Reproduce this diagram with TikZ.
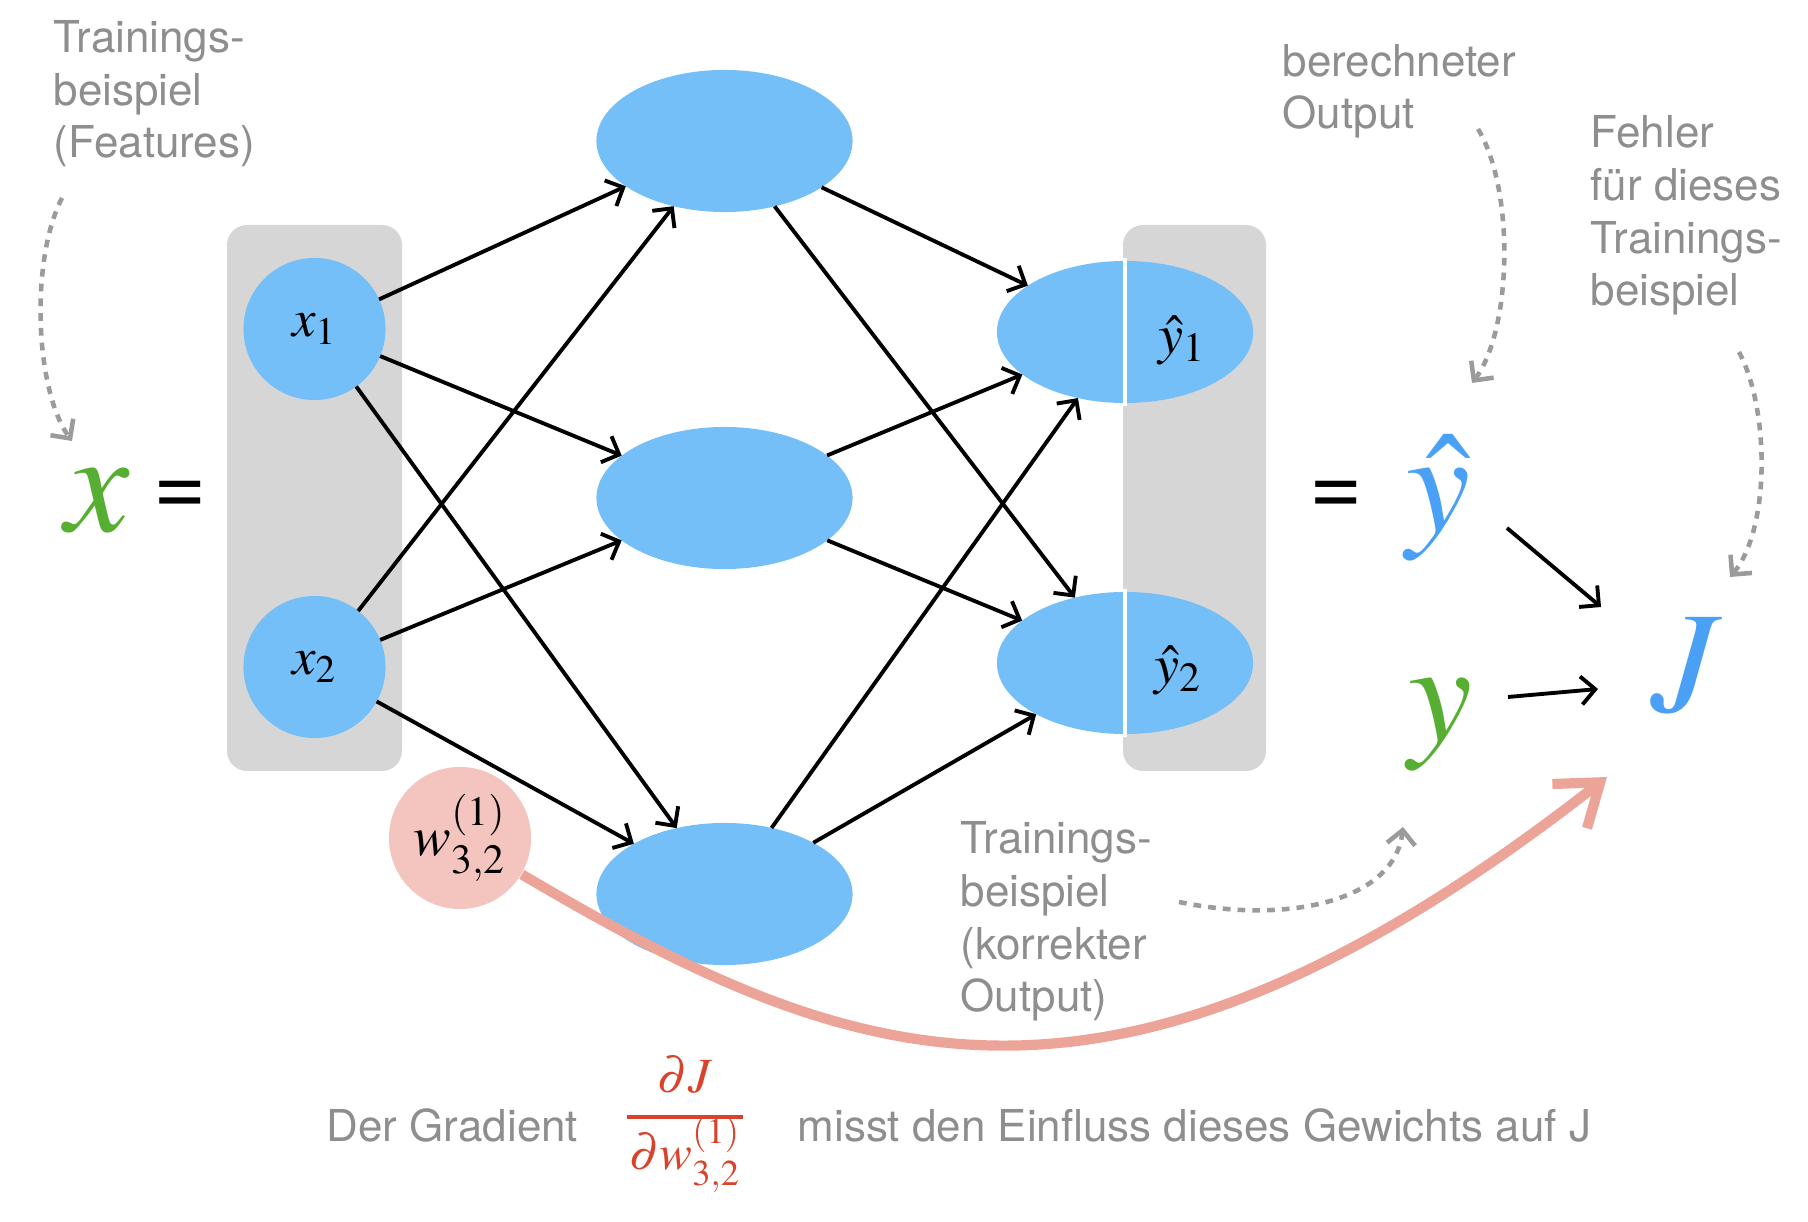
\documentclass[tikz,border=0pt]{standalone}
\usepackage{mathptmx}
\usepackage[no-math]{fontspec}
\setmainfont{TeX Gyre Heros}
\usetikzlibrary{arrows.meta,shapes.geometric}
\definecolor{nodeblue}{RGB}{116,191,248}
\definecolor{boxgray}{RGB}{214,214,214}
\definecolor{txtgray}{RGB}{142,142,142}
\definecolor{dotgray}{RGB}{155,155,155}
\definecolor{wpink}{RGB}{244,196,191}
\definecolor{arrowpink}{RGB}{237,164,152}
\definecolor{xgreen}{RGB}{86,174,50}
\definecolor{mblue}{RGB}{74,160,245}
\definecolor{gradred}{RGB}{217,67,44}
\tikzset{
  neuron/.style={circle, fill=nodeblue, minimum size=1.42cm, inner sep=0, outer sep=0, font=\fontsize{15}{18}\selectfont},
  hidden/.style={ellipse, fill=nodeblue, minimum width=2.56cm, minimum height=1.42cm, inner sep=0, outer sep=0},
  conn/.style={draw=black, line width=1.1pt, -{Straight Barb[length=4pt,width=8pt]}},
  note/.style={text=txtgray, align=left, font=\fontsize{12.5}{15}\selectfont, inner sep=0, anchor=base west},
  hint/.style={draw=dotgray, line width=1.3pt, dash pattern=on 2.2pt off 2pt, -{Straight Barb[length=4pt,width=8pt]}},
  bigmath/.style={font=\fontsize{41}{48}\selectfont, inner sep=0, anchor=base},
  eqsign/.style={font=\fontsize{26}{30}\selectfont, inner sep=0},
  smallmath/.style={font=\fontsize{16}{19}\selectfont, inner sep=0},
  gradpart/.style={font=\fontsize{14}{17}\selectfont, text=gradred, inner sep=0, anchor=base},
  pinkarrow/.style={draw=arrowpink, line width=2.9pt, -{Straight Barb[length=11pt,width=16pt]}}
}
\begin{document}
\begin{tikzpicture}[x=0.01cm, y=-0.01cm]
\useasboundingbox (0,0) rectangle (1808,1222);

% grey vector boxes
\fill[boxgray, rounded corners=0.2cm] (227,225) rectangle (402,771);
\fill[boxgray, rounded corners=0.2cm] (1123,225) rectangle (1266,771);

% network nodes
\node[neuron] (x1) at (314.5,329) {$x_1$};
\node[neuron] (x2) at (314.5,667) {$x_2$};
\node[hidden] (h1) at (724.5,141) {};
\node[hidden] (h2) at (724.5,498) {};
\node[hidden] (h3) at (724.5,894) {};
\node[hidden] (o1) at (1125,332) {};
\node[hidden] (o2) at (1125,663) {};
\draw[white, line width=1.4pt] ([shift={(0,-3)}]o1.north) -- ([shift={(0,3)}]o1.south);
\draw[white, line width=1.4pt] ([shift={(0,-3)}]o2.north) -- ([shift={(0,3)}]o2.south);
\node[smallmath] (y1l) at (1182,340) {$\hat{y}_1$};
\node[smallmath] (y2l) at (1178,670) {$\hat{y}_2$};

\node[circle, fill=wpink, minimum size=1.42cm, inner sep=0, font=\fontsize{16}{19}\selectfont] (w) at (460,838) {$w^{(1)}_{3,2}$};

% connectors
\foreach \a in {x1,x2} \foreach \b in {h1,h2,h3} \draw[conn] (\a) -- (\b);
\foreach \a in {h1,h2,h3} \foreach \b in {o1,o2} \draw[conn] (\a) -- (\b);

% big symbols
\node[bigmath, text=xgreen] (X) at (98,532) {$x$};
\node[eqsign] (eq1) at (180,498) {=};
\node[eqsign] (eq2) at (1336,498) {=};
\node[bigmath, text=mblue] (yhat) at (1438,532) {$\hat{y}$};
\node[bigmath, text=xgreen] (y) at (1440,742) {$y$};
\node[bigmath, text=mblue] (J) at (1687,712) {$J$};

\draw[conn] ([shift={(69,-4)}]yhat.base) -- ([shift={(-86,-105)}]J.base);
\draw[conn] ([shift={(68,-45)}]y.base) -- ([shift={(-89,-23)}]J.base);

% notes (anchored at the baseline of their last line)
\node[note] (feat) at (53,158) {Trainings-\\beispiel\\(Features)};
\node[note] (berout) at (1282,129) {berechneter\\Output};
\node[note] (fehler) at (1590,306) {Fehler\\für dieses\\Trainings-\\beispiel};
\node[note] (korr) at (960,1012) {Trainings-\\beispiel\\(korrekter\\Output)};
\node[note] (der) at (326,1142) {Der Gradient};
\node[note] (misst) at (797,1142) {misst den Einfluss dieses Gewichts auf J};

% dotted hint arrows
\coordinate (featTail) at (62,198);
\coordinate (beroutTail) at (1478,129);
\coordinate (fehlerTail) at (1739,352);
\coordinate (korrTail) at (1179,902);
\draw[hint] (featTail) .. controls (30,260) and (35,390) .. ([shift={(-26,-91)}]X.base);
\draw[hint] (beroutTail) .. controls (1515,190) and (1512,330) .. ([shift={(34,-149)}]yhat.base);
\draw[hint] (fehlerTail) .. controls (1770,410) and (1770,530) .. ([shift={(43,-135)}]J.base);
\draw[hint] (korrTail) .. controls (1290,925) and (1395,900) .. ([shift={(-37,85)}]y.base);

% gradient arrow
\draw[pinkarrow] (w) .. controls (852,1069) and (1109,1166) .. ([shift={(-80,65)}]J.base);

% fraction
\node[gradpart] (num) at (685,1093) {$\partial J$};
\node[gradpart] (den) at (685,1170) {$\partial w^{(1)}_{3,2}$};
\draw[gradred, line width=1pt] (627,1117) -- (743,1117);
\end{tikzpicture}
\end{document}
